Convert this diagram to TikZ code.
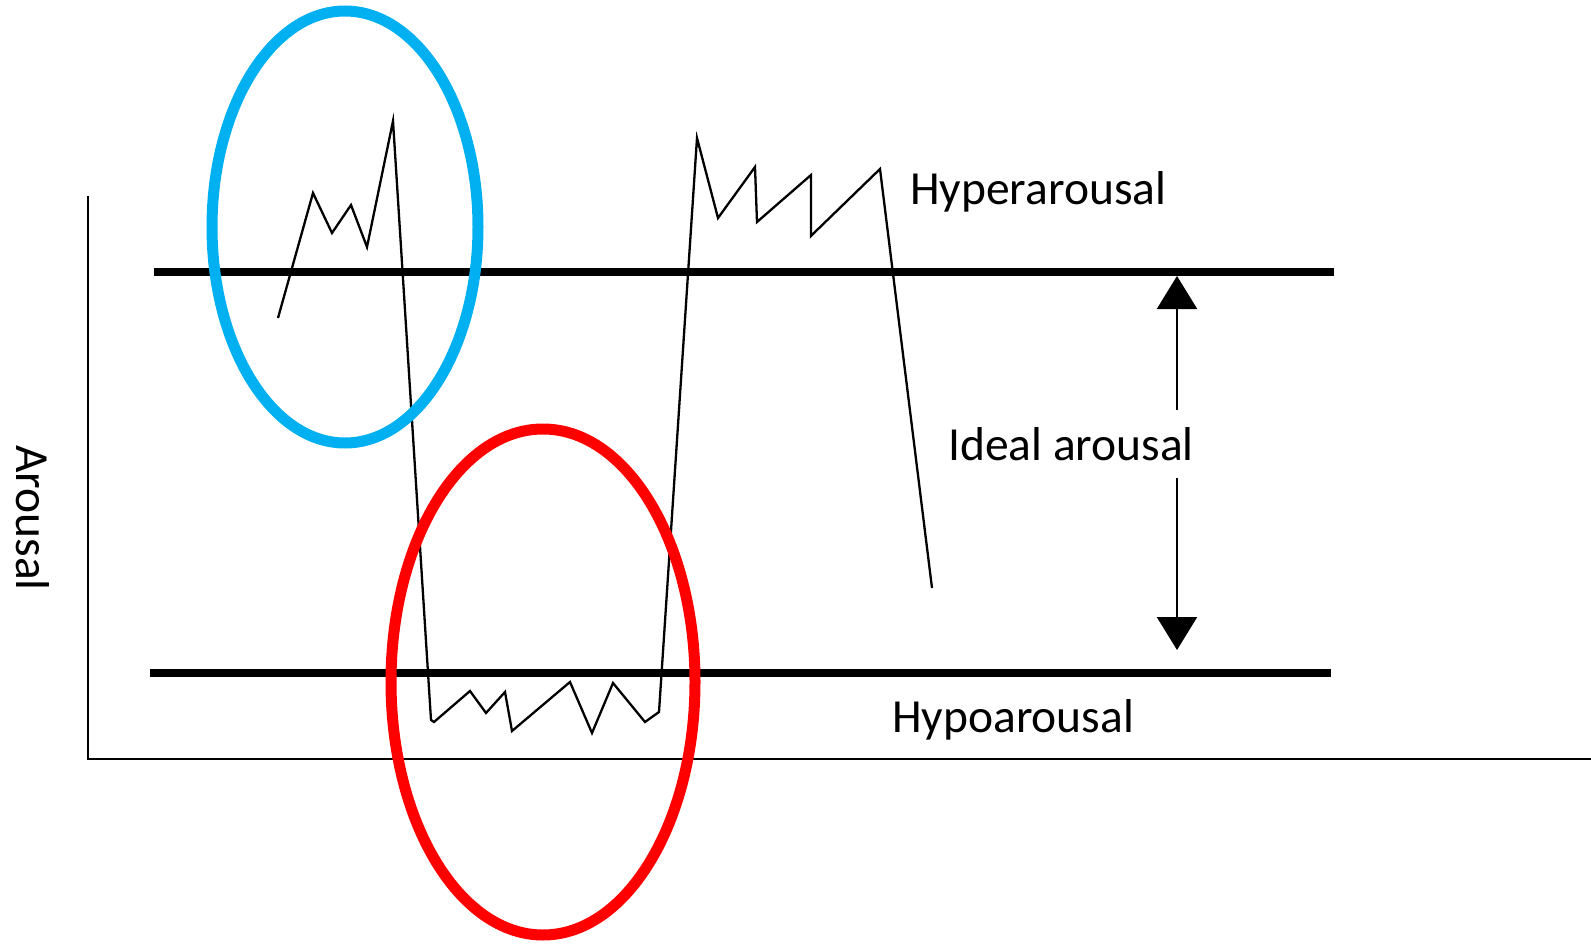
\documentclass[tikz,border=0pt]{standalone}
\usepackage{fontspec}
\setmainfont{Carlito}
\usetikzlibrary{arrows.meta}
\begin{document}
\begin{tikzpicture}[x=1pt,y=-1pt,
  lbl/.style={font=\fontsize{47.5}{52}\selectfont, inner sep=2pt},
  band/.style={line width=8pt},
  axis/.style={line width=2pt},
  trace/.style={line width=2.3pt, line join=miter},
  ring/.style={line width=11pt}]
\useasboundingbox (0,0) rectangle (1591,944);
% axes
\coordinate (ytop) at (88,196);
\coordinate (orig) at (88,759);
\coordinate (xend) at (1591,759);
\draw[axis] (ytop) -- (orig) -- (xend);
% bands
\coordinate (hl) at (154,272);
\coordinate (hr) at (1334,272);
\coordinate (ll) at (150,673);
\coordinate (lr) at (1331,673);
\draw[band] (hl) -- (hr);
\draw[band] (ll) -- (lr);
% trace
\draw[trace] (278,318) -- (313,193) -- (332,233) -- (351,205) -- (367,247) -- (393,121)
  -- (431,720) -- (434,722) -- (470,691) -- (486,713) -- (505,692) -- (512,731)
  -- (570,682) -- (592,733) -- (613,683) -- (645,722) -- (659,712) -- (697,138)
  -- (718,218) -- (755,167) -- (757,222) -- (811,175) -- (811,236) -- (815,232)
  -- (880,169) -- (932,588);
% ellipses
\draw[ring, draw={rgb,255:red,0;green,176;blue,240}] (345,227) ellipse [x radius=133, y radius=216];
\draw[ring, draw={rgb,255:red,255;green,0;blue,0}] (543,682) ellipse [x radius=152, y radius=253];
% arrow
\coordinate (atop) at (1177,276);
\coordinate (abot) at (1177,650);
\draw[line width=2.3pt, {Triangle[width=40pt,length=33pt]}-{Triangle[width=40pt,length=33pt]}] (atop) -- (abot);
% labels
\node[lbl, anchor=west] (hyper) at (908,192) {Hyperarousal};
\node[lbl, fill=white, inner ysep=17pt] (ideal) at (1071,444) {Ideal arousal};
\node[lbl, anchor=west] (hypo) at (890,720) {Hypoarousal};
\node[lbl, rotate=-90] (ylab) at (33,518) {Arousal};
\end{tikzpicture}
\end{document}
